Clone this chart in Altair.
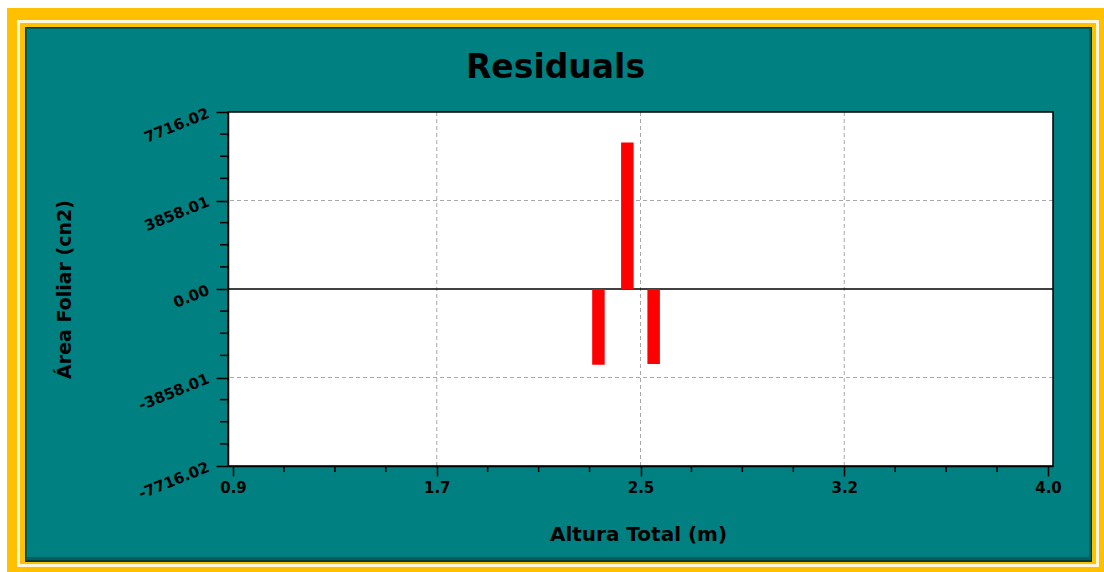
import altair as alt
import pandas as pd

# ---- data ----
heights = [2.29, 2.40, 2.50]            # Altura Total (m)
residuals = [-3300.0, 6390.0, -3270.0]  # residual of Área Foliar (cn2)

x_tick_values = [0.9, 1.675, 2.45, 3.225, 4.0]
x_tick_labels = ["0.9", "1.7", "2.5", "3.2", "4.0"]
x_minor_ticks = [1.09375, 1.2875, 1.48125, 1.86875, 2.0625, 2.25625,
                 2.64375, 2.8375, 3.03125, 3.41875, 3.6125, 3.80625]

y_tick_values = [-7716.02, -3858.01, 0.0, 3858.01, 7716.02]
y_tick_labels = ["-7716.02", "-3858.01", "0.00", "3858.01", "7716.02"]
y_minor_ticks = [-6751.5175, -5787.015, -4822.5125, -2893.5075, -1929.005, -964.5025,
                 964.5025, 1929.005, 2893.5075, 4822.5125, 5787.015, 6751.5175]

title_text = "Residuals"
x_title = "Altura Total (m)"
y_title = "Área Foliar (cn2)"

# ---- layout / style ----
W, H = 825, 354          # plot area
OX, OY = 228, 112        # plot origin on the page
FONT = "DejaVu Sans"
TEAL = "#008080"
YELLOW = "#FFC000"

one = pd.DataFrame({"k": [0]})


def label_expr(values, labels):
    expr = "''"
    for v, l in zip(values, labels):
        expr = f"abs(datum.value - ({v})) < 1e-6 ? '{l}' : ({expr})"
    return expr


def page_rect(x0, y0, x1, y1, color):
    return alt.Chart(one).mark_rect(color=color).encode(
        x=alt.value(x0 - OX), x2=alt.value(x1 - OX),
        y=alt.value(y0 - OY), y2=alt.value(y1 - OY),
    )


xs = alt.Scale(domain=[x_tick_values[0], x_tick_values[-1]], nice=False, zero=False)
ys = alt.Scale(domain=[y_tick_values[0], y_tick_values[-1]], nice=False, zero=False)

x_axis = alt.Axis(
    values=x_tick_values, labelExpr=label_expr(x_tick_values, x_tick_labels),
    grid=False, zindex=1, domainColor="black", domainWidth=1.5,
    tickColor="black", tickWidth=1.5, tickSize=10,
    labelFont=FONT, labelFontSize=15, labelFontWeight="bold", labelColor="black",
    labelPadding=4, labelFlush=False, labelOverlap=False,
    title=x_title, titleFont=FONT, titleFontSize=20, titleFontWeight="bold",
    titleColor="black", titleX=410, titleY=68, titleAlign="center",
    titleBaseline="middle", titleAngle=0,
)
y_axis = alt.Axis(
    values=y_tick_values, labelExpr=label_expr(y_tick_values, y_tick_labels),
    grid=False, zindex=1, domainColor="black", domainWidth=1.5,
    tickColor="black", tickWidth=1.5, tickSize=12,
    labelFont=FONT, labelFontSize=15, labelFontWeight="bold", labelColor="black",
    labelAngle=338, labelAlign="right", labelBaseline="middle",
    labelPadding=8, labelFlush=False, labelOverlap=False,
    title=y_title, titleFont=FONT, titleFontSize=19, titleFontWeight="bold",
    titleColor="black", titleX=-164, titleY=177, titleAngle=270,
    titleAlign="center", titleBaseline="middle",
)


def X(field):
    return alt.X(field, type="quantitative", scale=xs, axis=x_axis)


def Y(field):
    return alt.Y(field, type="quantitative", scale=ys, axis=y_axis)


# ---- frame ----
frame = [
    page_rect(0, 0, 1104, 572, "white"),
    page_rect(7, 8, 1104, 572, YELLOW),
    page_rect(17, 20, 1099, 567, "#FFF6DC"),
    page_rect(20, 23, 1096, 564, YELLOW),
    page_rect(25, 27, 1092, 562, "#023c3c"),
    page_rect(26, 28, 1091, 560, "#005e5e"),
    page_rect(27, 29, 1089, 557, TEAL),
    alt.Chart(one).mark_rect(color="white").encode(
        x=alt.value(0), x2=alt.value(W), y=alt.value(0), y2=alt.value(H)),
]

title = alt.Chart(one).mark_text(
    text=title_text, font=FONT, fontSize=33, fontWeight="bold", color="black",
    align="center", baseline="alphabetic",
).encode(x=alt.value(555.5 - OX), y=alt.value(78 - OY))

# ---- grid lines ----
xgrid = alt.Chart(pd.DataFrame({"v": x_tick_values[1:-1]})).mark_rule(
    color="#a8a8a8", strokeWidth=1, strokeDash=[4, 3]
).encode(x=X("v"))
ygrid = alt.Chart(pd.DataFrame({"v": [y_tick_values[1], y_tick_values[3]]})).mark_rule(
    color="#a8a8a8", strokeWidth=1, strokeDash=[4, 3]
).encode(y=Y("v"))
zero = alt.Chart(pd.DataFrame({"v": [0.0]})).mark_rule(
    color="black", strokeWidth=1.5
).encode(y=Y("v"))

# ---- bars ----
bars = alt.Chart(pd.DataFrame({"h": heights, "r": residuals})).mark_bar(
    color="#FF0000", size=12.5
).encode(
    x=X("h"),
    y=Y("r"),
    y2=alt.datum(0),
)

# ---- minor ticks ----
xminor = alt.Chart(pd.DataFrame({"v": x_minor_ticks})).mark_rule(
    color="black", strokeWidth=1.5
).encode(x=X("v"), y=alt.value(H), y2=alt.value(H + 6))
yminor = alt.Chart(pd.DataFrame({"v": y_minor_ticks})).mark_rule(
    color="black", strokeWidth=1.5
).encode(y=Y("v"), x=alt.value(-8), x2=alt.value(0))

border = alt.Chart(one).mark_rect(filled=False, stroke="black", strokeWidth=1.5).encode(
    x=alt.value(0), x2=alt.value(W), y=alt.value(0), y2=alt.value(H))

chart = alt.layer(
    *frame, title, xgrid, ygrid, zero, bars, xminor, yminor, border
).properties(
    width=W, height=H, padding=0, background="white"
).configure_view(strokeWidth=0)

chart.save("out.html", embed_options={"renderer": "svg", "actions": False})
